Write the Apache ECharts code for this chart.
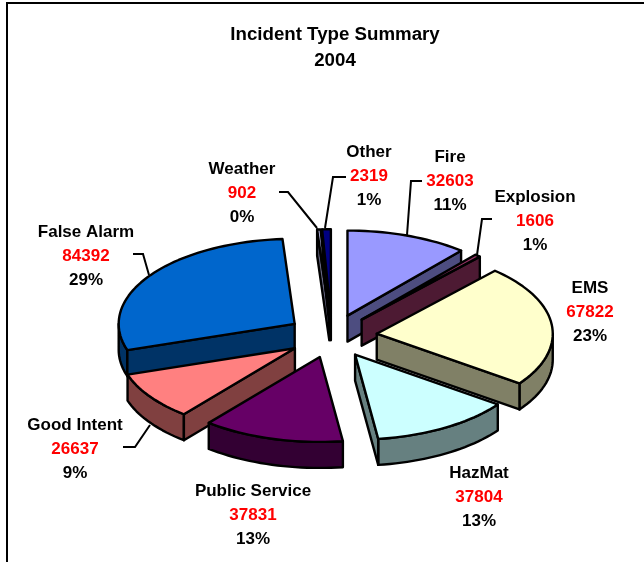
<!DOCTYPE html>
<html><head><meta charset="utf-8">
<style>html,body{margin:0;padding:0;background:#fff}#c{width:644px;height:562px}</style>
<script src="https://cdn.jsdelivr.net/npm/echarts@6/dist/echarts.min.js"></script>
</head><body><div id="c"></div>
<script>
const categories = ['Fire','Explosion','EMS','HazMat','Public Service','Good Intent','False Alarm','Weather','Other'];
const values = [32603,1606,67822,37804,37831,26637,84392,902,2319];
const topColors = ['#9999FF','#993366','#FFFFCC','#CCFFFF','#660066','#FF8080','#0066CC','#CCCCFF','#000080'];
const sideColors = ['#4D4D80','#4D1A33','#808066','#668080','#330033','#804040','#003366','#666680','#000040'];
const labelCenters = [[450,145],[535,185],[590,276],[479,461],[253,479],[75,413],[86,220],[242,157],[369,140]];
const leaderLines = [
  [[422,181],[411,181],[407,235]],
  [[492,219],[482,219],[477,255]],
  null, null, null,
  [[123,447],[135,447],[150,425]],
  [[133,254],[143,254],[149,275]],
  [[279,192],[288,192],[317,228]],
  [[346,177],[333,177],[325,228]]
];
const PIE = {cx:332, cy:336, rx:176, ry:85, depth:26, explode:45};
const total = values.reduce((a,b)=>a+b,0);
const spans = []; { let acc=0; values.forEach(v=>{ spans.push([acc/total*360,(acc+v)/total*360]); acc+=v; }); }
const rad = d=>d*Math.PI/180;
const LW = 2.4;

function renderItem(params, api){
  const i = params.dataIndex;
  const [a0,a1] = spans[i];
  const mid = (a0+a1)/2;
  const ox = PIE.cx + PIE.explode*Math.sin(rad(mid));
  const oy = PIE.cy - PIE.explode*(PIE.ry/PIE.rx)*Math.cos(rad(mid));
  const pt = (a,dz)=>[ox+PIE.rx*Math.sin(rad(a)), oy-PIE.ry*Math.cos(rad(a))+(dz||0)];
  const arc = (s,e,dz)=>{ const n=Math.max(2,Math.ceil(Math.abs(e-s)/2)); const out=[]; for(let k=0;k<=n;k++) out.push(pt(s+(e-s)*k/n,dz)); return out; };
  const z = Math.round(oy*10);
  const lineStyle = (c)=>({fill:c, stroke:'#000', lineWidth:LW, lineJoin:'round'});
  const children = [];
  const D = PIE.depth;
  const rs = Math.max(a0,90), re = Math.min(a1,270);
  if (re>rs) children.push({type:'polygon', z2:z, shape:{points:arc(rs,re,0).concat(arc(re,rs,D))}, style:lineStyle(sideColors[i])});
  const face = a=>[[ox,oy],pt(a,0),pt(a,D),[ox,oy+D]];
  if (Math.sin(rad(a1))>0) children.push({type:'polygon', z2:z+1, shape:{points:face(a1)}, style:lineStyle(sideColors[i])});
  if (Math.sin(rad(a0))<0) children.push({type:'polygon', z2:z+1, shape:{points:face(a0)}, style:lineStyle(sideColors[i])});
  children.push({type:'polygon', z2:z+2, shape:{points:[[ox,oy]].concat(arc(a0,a1,0))}, style:lineStyle(topColors[i])});
  if (leaderLines[i]) children.push({type:'polyline', z2:z+3, shape:{points:leaderLines[i]}, style:{fill:null, stroke:'#000', lineWidth:2}});
  const pct = Math.round(api.value(0)/total*100)+'%';
  children.push({type:'text', z2:9000, x:labelCenters[i][0], y:labelCenters[i][1], style:{
    text:'{n|'+categories[i]+'}\n{v|'+api.value(0)+'}\n{n|'+pct+'}',
    align:'center', verticalAlign:'top',
    rich:{
      n:{fontFamily:'Liberation Sans',fontWeight:'bold',fontSize:17,lineHeight:24,fill:'#000',color:'#000'},
      v:{fontFamily:'Liberation Sans',fontWeight:'bold',fontSize:17,lineHeight:24,fill:'#FF0000',color:'#FF0000'}
    }
  }});
  return {type:'group', children};
}

const chart = echarts.init(document.getElementById('c'),null,{renderer:'canvas'});
chart.setOption({
  animation:false,
  backgroundColor:'#fff',
  title:{text:'Incident Type Summary\n2004', left:330, top:17, textAlign:'center',
    textStyle:{fontFamily:'Liberation Sans',fontWeight:'bold',fontSize:18.7,lineHeight:26,color:'#000'}},
  graphic:[{type:'polyline', silent:true, z:-1, shape:{points:[[7,562],[7,3],[644,3]]}, style:{fill:null,stroke:'#000',lineWidth:2}}],
  series:[{type:'custom', coordinateSystem:'none', renderItem, data:values.map(v=>[v]), silent:true, clip:false}]
});
</script></body></html>
